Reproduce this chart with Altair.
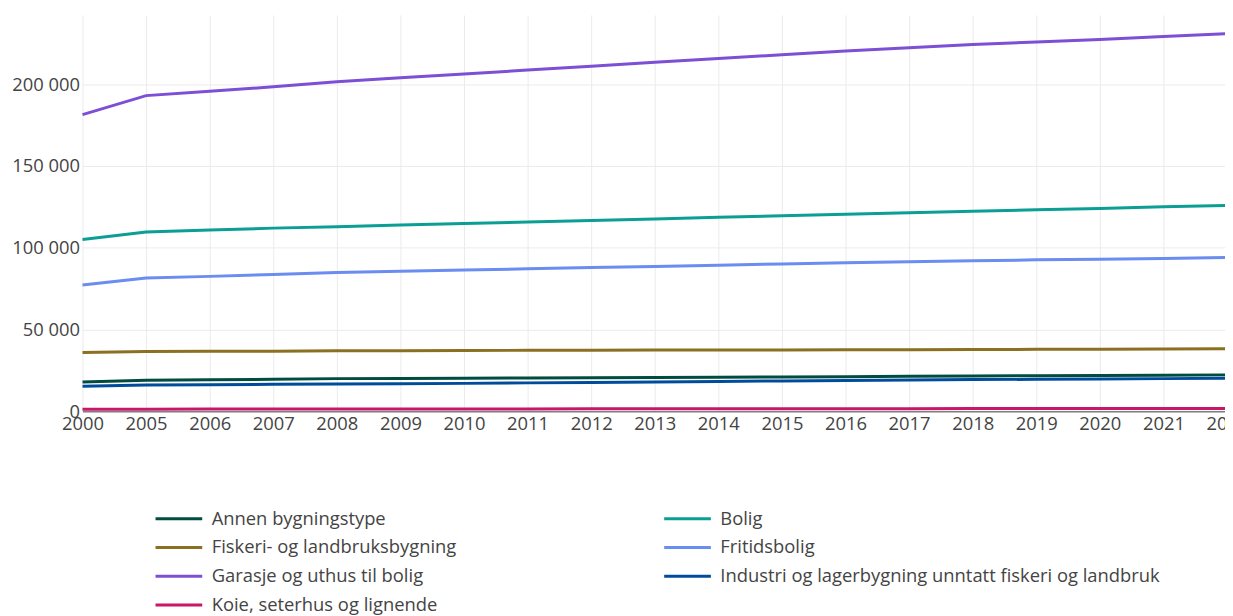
import altair as alt
import pandas as pd

years = ["2000", "2005", "2006", "2007", "2008", "2009", "2010", "2011", "2012",
         "2013", "2014", "2015", "2016", "2017", "2018", "2019", "2020", "2021", "2022"]

categories = [
    "Annen bygningstype",
    "Bolig",
    "Fiskeri- og landbruksbygning",
    "Fritidsbolig",
    "Garasje og uthus til bolig",
    "Industri og lagerbygning unntatt fiskeri og landbruk",
    "Koie, seterhus og lignende",
]

annen = [18000, 19000, 19300, 19600, 20000, 20100, 20300, 20400, 20600, 20700,
         20900, 21000, 21200, 21400, 21600, 21800, 21900, 22100, 22300]
bolig = [105000, 109600, 110800, 112000, 112900, 113850, 114800, 115700, 116700, 117600,
         118600, 119500, 120500, 121400, 122300, 123200, 124000, 125000, 125800]
fiskeri = [36000, 36600, 36700, 36800, 37000, 37100, 37200, 37300, 37400, 37450,
           37500, 37550, 37600, 37700, 37800, 37900, 38000, 38100, 38200]
fritid = [77200, 81500, 82500, 83700, 84900, 85600, 86400, 87100, 87900, 88600,
          89300, 90100, 90800, 91400, 92000, 92600, 93000, 93400, 94000]
garasje = [181400, 193000, 195600, 198400, 201500, 203900, 206200, 208600, 211000, 213400,
           215700, 218000, 220300, 222300, 224300, 225700, 227300, 229100, 230800]
industri = [15400, 16100, 16300, 16500, 16700, 16900, 17100, 17400, 17700, 18000,
            18300, 18600, 18900, 19100, 19400, 19600, 19800, 20000, 20200]
koie = [1300, 1350, 1380, 1400, 1420, 1450, 1480, 1500, 1520, 1550,
        1580, 1600, 1620, 1650, 1680, 1700, 1740, 1780, 1800]

series = [annen, bolig, fiskeri, fritid, garasje, industri, koie]
colors = ["#004c3f", "#0b9e94", "#8a7020", "#6b8cf0", "#7c4fd4", "#004c9c", "#c8166b"]

# legend fills column by column: first column then second column
legend_order = [0, 2, 4, 6, 1, 3, 5]
legend_domain = [categories[i] for i in legend_order]
legend_range = [colors[i] for i in legend_order]

rows = []
for cat, vals in zip(categories, series):
    for yr, v in zip(years, vals):
        rows.append({"year": yr, "value": v, "cat": cat})
df = pd.DataFrame(rows)

FONT = "Open Sans"
TXT = "#444444"
FS = 18.5

chart = alt.Chart(df).mark_line(strokeWidth=3).encode(
    x=alt.X("year:O", sort=years,
            scale=alt.Scale(type="point", range=[0, 1152], padding=0),
            axis=alt.Axis(title=None, labelAngle=0, grid=True, gridColor="#ebebeb",
                          domainColor="#444444", domainWidth=1, ticks=False,
                          labelFontSize=FS, labelColor=TXT, labelFont=FONT,
                          labelPadding=3, labelOverlap=False, labelBound=False)),
    y=alt.Y("value:Q",
            scale=alt.Scale(domain=[0, 242300], nice=False, zero=True),
            axis=alt.Axis(title=None, values=[0, 50000, 100000, 150000, 200000],
                          labelExpr="replace(format(datum.value, ','), ',', ' ')",
                          domain=False, ticks=False, gridColor="#ebebeb",
                          labelFontSize=FS, labelColor=TXT, labelFont=FONT,
                          labelPadding=3)),
    color=alt.Color("cat:N",
                    scale=alt.Scale(domain=legend_domain, range=legend_range),
                    legend=alt.Legend(title=None, orient="none", legendX=72, legendY=494,
                                      columns=2, columnPadding=207, rowPadding=3,
                                      clipHeight=26,
                                      symbolType="stroke", symbolSize=2209,
                                      symbolStrokeWidth=3, labelFontSize=FS,
                                      labelColor=TXT, labelFont=FONT, labelOffset=8,
                                      labelLimit=600, padding=0)),
).properties(
    width=1150,
    height=399,
    autosize=alt.AutoSizeParams(type="none"),
    padding={"left": 75, "top": 5, "right": 0, "bottom": 204},
).configure_view(stroke=None)

chart.save("out.html", embed_options={"renderer": "svg", "actions": False})
